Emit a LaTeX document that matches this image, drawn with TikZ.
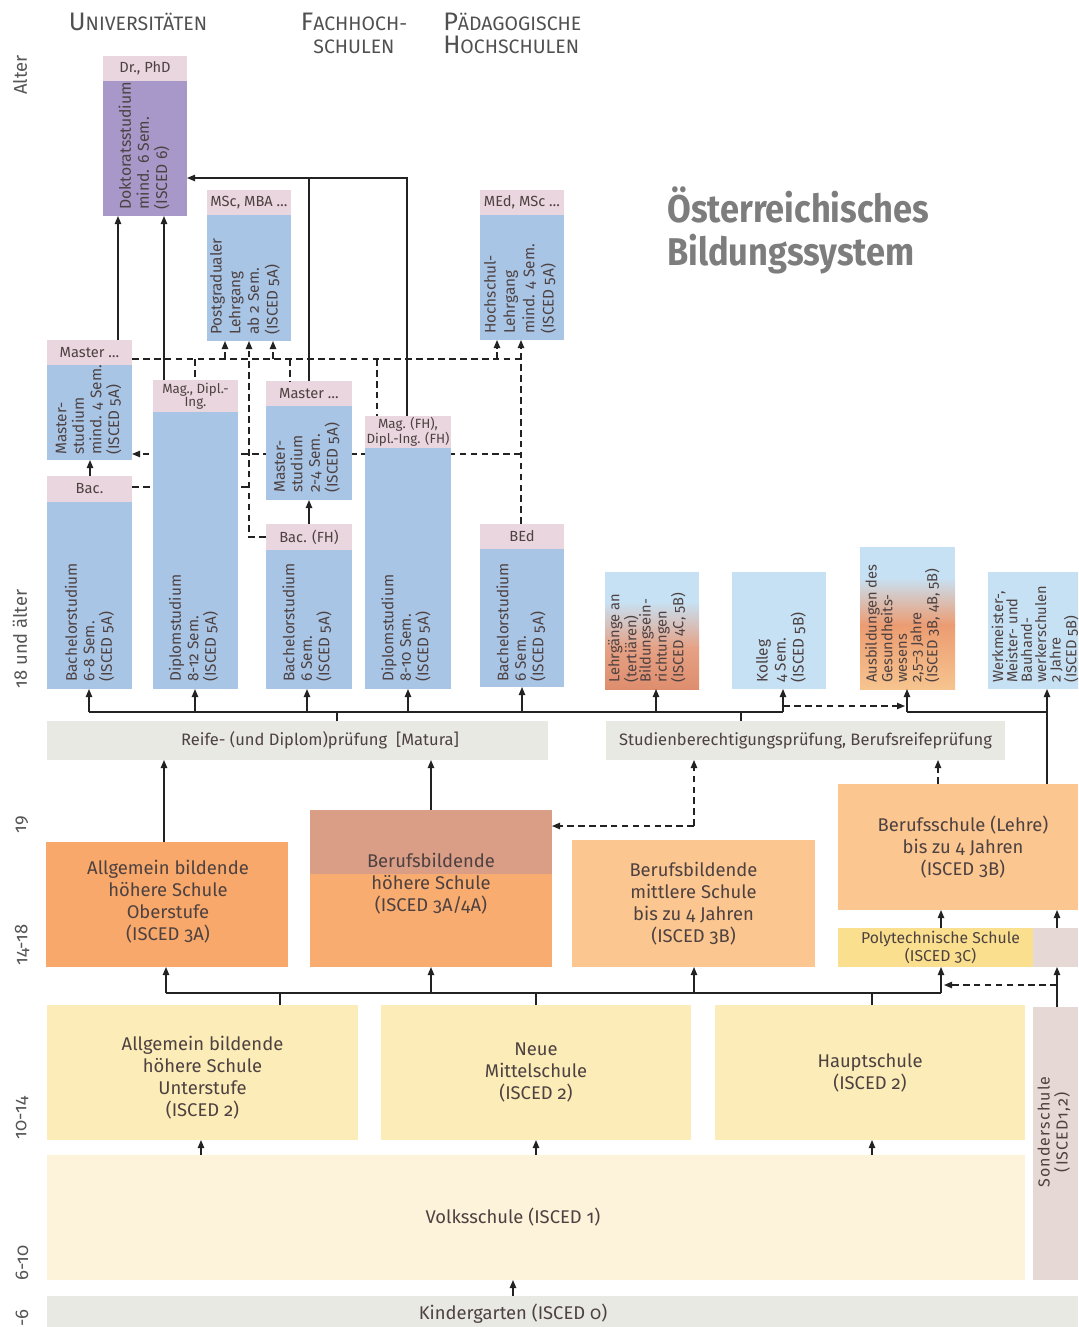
\documentclass[tikz,border=0pt]{standalone}
\usepackage{fontspec}
\setmainfont{Fira Sans}[Numbers=OldStyle]
\usetikzlibrary{arrows.meta,fit,calc}
\pgfdeclarelayer{background}
\pgfsetlayers{background,main}
\definecolor{pinkh}{HTML}{E9D6DE}
\definecolor{purp}{HTML}{A898C9}
\definecolor{blu}{HTML}{A9C5E6}
\definecolor{lblu}{HTML}{C7E1F4}
\definecolor{orng}{HTML}{F8A86A}
\definecolor{bhstop}{HTML}{DA9D86}
\definecolor{bhsbot}{HTML}{F8AC70}
\definecolor{lorng}{HTML}{FBC690}
\definecolor{polyc}{HTML}{FAE08E}
\definecolor{sond}{HTML}{E6D8D4}
\definecolor{yel}{HTML}{FCEDB8}
\definecolor{lyel}{HTML}{FDF3DA}
\definecolor{gry}{HTML}{E9E9E3}
\definecolor{rustA}{HTML}{E6A184}
\definecolor{rustB}{HTML}{DE8E6E}
\definecolor{ausA}{HTML}{EC9C72}
\definecolor{ausB}{HTML}{F6C48E}
\definecolor{txt}{HTML}{4D4141}
\definecolor{headc}{HTML}{505050}
\definecolor{ttl}{HTML}{7D7D7D}
\definecolor{agec}{HTML}{555555}
\definecolor{lnc}{HTML}{222222}
\newcommand\ftM{\fontsize{13.8}{16.6}\selectfont}
\newcommand\ftR{\fontsize{12.4}{14}\selectfont}
\newcommand\ftV{\fontsize{11.5}{13.2}\selectfont}
\newcommand\ftS{\fontsize{11}{10.8}\selectfont}
\newcommand\ftH{\fontsize{11}{11}\selectfont}
\newcommand\ftHH{\fontsize{10}{9}\selectfont}
\newcommand\ftA{\fontsize{13.8}{14}\selectfont}
\newcommand\SCap[2]{{\fontsize{19}{20}\selectfont #1}{\fontsize{14.6}{20}\selectfont #2}}
\newcommand\SCs[1]{{\fontsize{14.6}{20}\selectfont #1}}
\begin{document}
\begin{tikzpicture}[x=0.75pt,y=-0.75pt,
  bx/.style={inner sep=0pt,outer sep=0pt,draw=none},
  hd/.style={bx,fill=pinkh},
  ht/.style={inner sep=0pt,text=txt,font=\ftH,align=center},
  vt/.style={rotate=90,anchor=west,align=left,inner sep=0pt,text=txt,font=\ftV},
  vs/.style={vt,font=\ftS},
  mt/.style={inner sep=0pt,text=txt,font=\ftM,align=center},
  ln/.style={line width=0.9pt,draw=lnc},
  dln/.style={ln,dash pattern=on 5pt off 3.2pt},
  arr/.style={ln,-{Triangle[length=6pt,width=4.8pt]}},
  darr/.style={dln,-{Triangle[length=6pt,width=4.8pt]}},
  age/.style={rotate=90,text=agec,font=\ftA,inner sep=0pt},
  hdg/.style={text=headc,inner sep=0pt}]
\useasboundingbox (0,0) rectangle (1078,1327);
\clip (0,0) rectangle (1078,1327);
% ---------- rails ----------
\foreach \xx in {89,90,118,164,166,195,201,225,249,273,280,290,307,309,320,337,377,407,408,431,497,513,521,522,536,656,694,741,783,872,905,907,938,941,944,1047,1057}
  {\coordinate (X\xx) at (\xx,0);}
\foreach \yy in {178,359,454,487,537,706,712,826,884,985,993}
  {\coordinate (Y\yy) at (0,\yy);}
% ---------- headings ----------
\node[hdg,anchor=base] (hu) at (138,31) {\SCap{U}{NIVERSITÄTEN}};
\node[hdg,anchor=base] (hf1) at (354,31) {\SCap{F}{ACHHOCH-}};
\node[hdg,anchor=base] (hf2) at (354,54) {\SCs{SCHULEN}};
\node[hdg,anchor=base west] (hp1) at (443,31) {\SCap{P}{ÄDAGOGISCHE}};
\node[hdg,anchor=base west] (hp2) at (443,54) {\SCap{H}{OCHSCHULEN}};
\node[anchor=north west,align=left,inner sep=0pt,text=ttl,font=\fontsize{29}{32.5}\bfseries] (title) at (667,186)
  {\scalebox{0.89}[1]{Österreichisches}\\\scalebox{0.89}[1]{Bildungssystem}};
% ---------- age labels ----------
\node[age] (a1) at (20,75) {Alter};
\node[age] (a2) at (20,639) {18 und älter};
\node[age] (a3) at (22,825) {19};
\node[age] (a4) at (22,945) {14-18};
\node[age] (a5) at (22,1118) {10-14};
\node[age] (a6) at (22,1263) {6-10};
\node[age] (a7) at (22,1318) {-6};
% ---------- tertiary boxes ----------
\node[hd,fit={(103,56)(187,81)}] (dokh) {};
\node[bx,fill=purp,fit={(103,81)(187,216)}] (dok) {};
\node[hd,fit={(207,190)(291,215)}] (postgh) {};
\node[bx,fill=blu,fit={(207,215)(291,341)}] (postg) {};
\node[hd,fit={(480,190)(564,215)}] (hochsh) {};
\node[bx,fill=blu,fit={(480,215)(564,340)}] (hochs) {};
\node[hd,fit={(47,340)(132,365)}] (mastuh) {};
\node[bx,fill=blu,fit={(47,365)(132,460)}] (mastu) {};
\node[hd,fit={(47,476)(132,502)}] (bach) {};
\node[bx,fill=blu,fit={(47,502)(132,689)}] (bac) {};
\node[hd,fit={(153,380)(238,412)}] (magdih) {};
\node[bx,fill=blu,fit={(153,412)(238,689)}] (dipl) {};
\node[hd,fit={(266,381)(352,406)}] (mfhh) {};
\node[bx,fill=blu,fit={(266,406)(352,500)}] (mfh) {};
\node[hd,fit={(266,524)(352,550)}] (bacfhh) {};
\node[bx,fill=blu,fit={(266,550)(352,689)}] (bacfh) {};
\node[hd,fit={(365,416)(451,448)}] (magfhh) {};
\node[bx,fill=blu,fit={(365,448)(451,689)}] (diplfh) {};
\node[hd,fit={(480,524)(564,549)}] (bedh) {};
\node[bx,fill=blu,fit={(480,549)(564,687)}] (bed) {};
% header texts
\node[ht] (tdokh) at (dokh.center) {Dr., PhD};
\node[ht] (tpostgh) at (postgh.center) {MSc, MBA …};
\node[ht] (thochsh) at (hochsh.center) {MEd, MSc …};
\node[ht] (tmastuh) at (mastuh.center) {Master …};
\node[ht] (tbach) at (bach.center) {Bac.};
\node[ht,font=\ftHH] (tmagdih) at (magdih.center) {Mag., Dipl.-\\Ing.};
\node[ht] (tmfhh) at (mfhh.center) {Master …};
\node[ht] (tbacfhh) at (bacfhh.center) {Bac. (FH)};
\node[ht,font=\ftHH] (tmagfhh) at (magfhh.center) {Mag. (FH),\\Dipl.-Ing. (FH)};
\node[ht] (tbedh) at (bedh.center) {BEd};
% gradient boxes
\fill[lblu] (605,572) rectangle (699,602);
\shade[top color=lblu,bottom color=rustA] (605,601.5) rectangle (699,648);
\shade[top color=rustA,bottom color=rustB] (605,647.5) rectangle (699,689);
\node[bx,fit={(605,572)(699,689)}] (lehr) {};
\node[bx,fill=lblu,fit={(732,572)(826,689)}] (kolleg) {};
\fill[lblu] (860,547) rectangle (955,578);
\shade[top color=lblu,bottom color=ausA] (860,577.5) rectangle (955,625);
\shade[top color=ausA,bottom color=ausB] (860,624.5) rectangle (955,689);
\node[bx,fit={(860,547)(955,689)}] (ausb) {};
\node[bx,fill=lblu,fit={(988,572)(1084,689)}] (werk) {};
% rotated texts
\node[vt,font=\fontsize{11.8}{13.6}\selectfont] (tdok) at ($(dok.south)+(-1,-6)$) {Doktoratsstudium\\mind. 6 Sem.\\(ISCED 6)};
\node[vt,font=\fontsize{11.5}{14}\selectfont] (tpostg) at ($(postg.south)+(-4,-6)$) {Postgradualer\\Lehrgang\\ab 2 Sem.\\(ISCED 5A)};
\node[vt,font=\fontsize{11.5}{14.5}\selectfont] (thochs) at ($(hochs.south)+(-2,-6)$) {Hochschul-\\Lehrgang\\mind. 4 Sem.\\(ISCED 5A)};
\node[vt] (tmastu) at ($(mastu.south)+(-1,-5)$) {Master-\\studium\\mind. 4 Sem.\\(ISCED 5A)};
\node[vt] (tbac) at ($(bac.south)+(0,-7)$) {Bachelorstudium\\6-8 Sem.\\(ISCED 5A)};
\node[vt] (tdipl) at ($(dipl.south)+(-2,-7)$) {Diplomstudium\\8-12 Sem.\\(ISCED 5A)};
\node[vt] (tmfh) at ($(mfh.south)+(-2,-7)$) {Master-\\studium\\2-4 Sem.\\(ISCED 5A)};
\node[vt] (tbacfh) at ($(bacfh.south)+(-2,-7)$) {Bachelorstudium\\6 Sem.\\(ISCED 5A)};
\node[vt] (tdiplfh) at ($(diplfh.south)+(-2,-7)$) {Diplomstudium\\8-10 Sem.\\(ISCED 5A)};
\node[vt] (tbed) at ($(bed.south)+(-1,-5)$) {Bachelorstudium\\6 Sem.\\(ISCED 5A)};
\node[vs] (tlehr) at ($(lehr.south)+(-5,-6)$) {Lehrgänge an\\(tertiären)\\Bildungsein-\\richtungen\\(ISCED 4C, 5B)};
\node[vt,font=\fontsize{11.5}{13.5}\selectfont] (tkolleg) at ($(kolleg.south)+(2,-6)$) {Kolleg\\4 Sem.\\(ISCED 5B)};
\node[vs] (tausb) at ($(ausb.south)+(-5,-6)$) {Ausbildungen des\\Gesundheits-\\wesens\\2,5–3 Jahre\\(ISCED 3B, 4B, 5B)};
\node[vs] (twerk) at ($(werk.south)+(-1,-6)$) {Werkmeister-,\\Meister- und\\Bauhand-\\werkerschulen\\2 Jahre\\(ISCED 5B)};
% ---------- exams ----------
\node[bx,fill=gry,fit={(47,721)(548,760)}] (reife) {};
\node[text=txt,font=\ftR,inner sep=0pt] (treife) at (reife.center -| X320) {Reife- (und Diplom)prüfung\ \ [Matura]};
\node[bx,fill=gry,fit={(606,721)(1005,760)}] (stud) {};
\node[text=txt,font=\ftR,inner sep=0pt] (tstud) at (stud.center) {Studienberechtigungsprüfung, Berufsreifeprüfung};
% ---------- upper secondary ----------
\node[bx,fill=orng,fit={(46,842)(288,967)}] (ahso) {};
\node[mt] (tahso) at ($(ahso.center)+(1,-3)$) {Allgemein bildende\\höhere Schule\\Oberstufe\\(ISCED 3A)};
\fill[bhsbot] (310,810) rectangle (552,967);
\fill[bhstop] (310,810) rectangle (552,874);
\node[bx,fit={(310,810)(552,967)}] (bhs) {};
\node[mt] (tbhs) at (bhs.center |- Y884) {Berufsbildende\\höhere Schule\\(ISCED 3A/4A)};
\node[bx,fill=lorng,fit={(572,840)(815,967)}] (bms) {};
\node[mt] (tbms) at (bms.center) {Berufsbildende\\mittlere Schule\\bis zu 4 Jahren\\(ISCED 3B)};
\node[bx,fill=lorng,fit={(838,784)(1078,910)}] (beruf) {};
\node[mt] (tberuf) at ($(beruf.center)+(5,0)$) {Berufsschule (Lehre)\\bis zu 4 Jahren\\(ISCED 3B)};
\node[bx,fill=polyc,fit={(838,928)(1033,967)}] (poly) {};
\node[inner sep=0pt,text=txt,align=center,font=\fontsize{11.8}{12}\selectfont] (tpoly) at ($(poly.center)+(5,0)$) {Polytechnische Schule\\(ISCED 3C)};
\node[bx,fill=sond,fit={(1033,928)(1078,967)}] (polyg) {};
% ---------- lower secondary / primary ----------
\node[bx,fill=yel,fit={(47,1005)(358,1140)}] (ahsu) {};
\node[mt] (tahsu) at ($(ahsu.center)+(0,5)$) {Allgemein bildende\\höhere Schule\\Unterstufe\\(ISCED 2)};
\node[bx,fill=yel,fit={(381,1005)(691,1140)}] (nms) {};
\node[mt] (tnms) at (nms.center) {Neue\\Mittelschule\\(ISCED 2)};
\node[bx,fill=yel,fit={(715,1005)(1025,1140)}] (hs) {};
\node[mt] (ths) at (hs.center) {Hauptschule\\(ISCED 2)};
\node[bx,fill=sond,fit={(1033,1007)(1078,1280)}] (sonder) {};
\node[rotate=90,align=center,text=txt,inner sep=0pt,font=\fontsize{12}{13.5}\selectfont\addfontfeature{LetterSpace=7}] (tsonder) at (1054,1132) {Sonderschule\\(ISCED1,2)};
\node[bx,fill=lyel,fit={(47,1155)(1025,1280)}] (volks) {};
\node[mt] (tvolks) at (volks.center -| X513) {Volksschule (ISCED 1)};
\node[bx,fill=gry,fit={(47,1296)(1078,1332)}] (kinder) {};
\node[mt] (tkinder) at (513,1314) {Kindergarten (ISCED 0)};
% ---------- connectors behind boxes ----------
\begin{pgfonlayer}{background}
\draw[darr] (X521|-Y454) -- (mastu.east |- Y454);
\draw[dln] (bach.east |- Y487) -- (X249|-Y487);
\end{pgfonlayer}
% ---------- connectors: bottom ----------
\draw[arr] (kinder.north -| X513) -- (volks.south -| X513);
\draw[arr] (volks.north -| X201) -- (ahsu.south -| X201);
\draw[arr] (volks.north -| X536) -- (nms.south -| X536);
\draw[arr] (volks.north -| X872) -- (hs.south -| X872);
\draw[ln] (X166|-Y993) -- (X941|-Y993);
\draw[ln] (ahsu.north -| X280) -- (X280|-Y993);
\draw[ln] (nms.north -| X536) -- (X536|-Y993);
\draw[ln] (hs.north -| X872) -- (X872|-Y993);
\draw[arr] (X166|-Y993) -- (ahso.south -| X166);
\draw[arr] (X431|-Y993) -- (bhs.south -| X431);
\draw[arr] (X694|-Y993) -- (bms.south -| X694);
\draw[arr] (X941|-Y993) -- (poly.south -| X941);
\draw[arr] (sonder.north -| X1057) -- (polyg.south -| X1057);
\draw[darr] (X1057|-Y985) -- (X944|-Y985);
\draw[arr] (poly.north -| X941) -- (beruf.south -| X941);
\draw[arr] (polyg.north -| X1057) -- (beruf.south -| X1057);
\draw[darr] (beruf.north -| X938) -- (stud.south -| X938);
\draw[arr] (beruf.north -| X1047) -- (werk.south -| X1047);
\draw[darr] (X694|-Y826) -- (stud.south -| X694);
\draw[darr] (X694|-Y826) -- (bhs.east |- Y826);
\draw[arr] (ahso.north -| X164) -- (reife.south -| X164);
\draw[arr] (bhs.north -| X431) -- (reife.south -| X431);
% ---------- connectors: to tertiary ----------
\draw[ln] (reife.north -| X337) -- (X337|-Y712);
\draw[ln] (stud.north -| X741) -- (X741|-Y712);
\draw[ln] (X89|-Y712) -- (X783|-Y712);
\draw[arr] (X89|-Y712) -- (bac.south -| X89);
\draw[arr] (X195|-Y712) -- (dipl.south -| X195);
\draw[arr] (X307|-Y712) -- (bacfh.south -| X307);
\draw[arr] (X408|-Y712) -- (diplfh.south -| X408);
\draw[arr] (X522|-Y712) -- (bed.south -| X522);
\draw[arr] (X656|-Y712) -- (lehr.south -| X656);
\draw[arr] (X783|-Y712) -- (kolleg.south -| X783);
\draw[darr] (X783|-Y706) -- (X905|-Y706);
\draw[ln] (X907|-Y712) -- (X1047|-Y712);
\draw[arr] (X907|-Y712) -- (ausb.south -| X907);
% ---------- connectors: upper ----------
\draw[arr] (bach.north -| X90) -- (mastu.south -| X90);
\draw[arr] (mastuh.north -| X118) -- (dok.south -| X118);
\draw[arr] (magdih.north -| X164) -- (dok.south -| X164);
\draw[ln] (magfhh.north -| X407) |- (X309|-Y178);
\draw[arr] (mfhh.north -| X309) |- (dok.east |- Y178);
\draw[arr] (bacfhh.north -| X309) -- (mfh.south -| X309);
\draw[dln] (mastuh.east |- Y359) -- (X521|-Y359);
\draw[dln] (X195|-Y359) -- (magdih.north -| X195);
\draw[darr] (X225|-Y359) -- (postg.south -| X225);
\draw[darr] (X273|-Y359) -- (postg.south -| X273);
\draw[darr] (bacfhh.west |- Y537) -| (postg.south -| X249);
\draw[dln] (X290|-Y359) -- (mfhh.north -| X290);
\draw[dln] (X377|-Y359) -- (magfhh.north -| X377);
\draw[darr] (X497|-Y359) -- (hochs.south -| X497);
\draw[darr] (bedh.north -| X521) -- (hochs.south -| X521);
\end{tikzpicture}
\end{document}
